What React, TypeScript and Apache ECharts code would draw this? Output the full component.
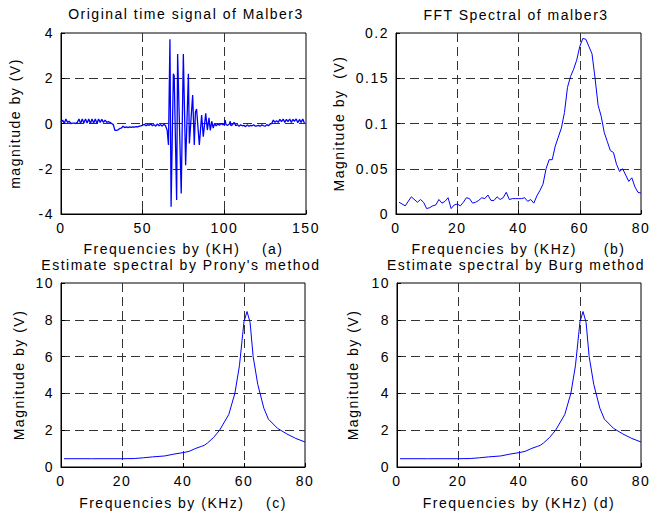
import React, { useEffect, useRef } from "react";
import * as echarts from "echarts";

// (a) Original time signal
const timeX = [
  0, 1, 2, 3, 4, 5, 6, 7, 8, 9, 10, 11, 12, 13, 14, 15, 16, 17, 18, 19, 20, 21, 22, 23, 24, 25, 26, 27, 28, 29,
  30, 31, 32, 33, 34, 35, 36, 37, 38, 39, 40, 41, 42, 43, 44, 45, 46, 47, 48, 49, 50, 51, 52, 53, 54, 55, 56, 57,
  58, 59, 60, 61, 62, 63, 64, 65, 65.8, 66.7, 67.4, 68.8, 69.3, 70.8, 71.4, 73.6, 74.9, 76.3, 78, 78.6, 80.6,
  81.6, 82.3, 83, 84.7, 86.1, 87.1, 88.6, 89.6, 90.6, 91.4, 92.3, 93.2, 94, 95, 96, 97, 98, 99, 100, 100.5,
  101, 102, 103, 103.6, 104, 105, 106, 107, 108, 109, 110, 111, 112, 113, 114, 115, 116, 117, 118, 119, 120,
  121, 122, 123, 124, 125, 126, 127, 128, 129, 130, 131, 132, 133, 134, 135, 136, 137, 138, 139, 140, 141, 142,
  143, 144, 145, 146, 147, 148, 149, 150,
];
const timeY = [
  0.05, 0.15, 0.0, 0.2, 0.05, 0.1, 0.0, 0.02, 0.02, 0.0, 0.05, 0.2, 0.0, 0.2, 0.02, 0.2, 0.02, 0.2, 0.0, 0.2,
  0.02, 0.2, 0.0, 0.2, 0.05, 0.18, 0.05, 0.15, 0.05, 0.08, 0.05, 0.0, -0.05, -0.3, -0.3, -0.28, -0.22, -0.2,
  -0.12, -0.18, -0.15, -0.18, -0.15, -0.17, -0.15, -0.16, -0.14, -0.15, -0.12, -0.1, -0.08, -0.03, -0.1, -0.05,
  -0.08, -0.02, -0.1, -0.05, -0.12, -0.02, -0.1, -0.05, -0.12, -0.03, -0.1, -0.3, -0.95, 3.72, -3.68, 2.2, 2.1,
  -3.38, 3.07, -3.09, 3.07, -1.84, 2.2, -0.88, 1.26, -0.95, 0.5, 0.64, -0.95, 0.37, -0.58, 0.45, -0.29, 0.25,
  -0.3, 0.1, -0.2, 0.0, -0.1, -0.02, -0.08, 0.0, -0.05, -0.05, 0.15, -0.05, -0.08, -0.03, 0.1, -0.1, -0.05,
  0.05, -0.1, -0.05, -0.12, -0.06, -0.1, -0.08, -0.14, -0.06, -0.12, -0.08, -0.1, -0.06, -0.12, -0.1, -0.08,
  -0.12, -0.06, -0.1, -0.12, -0.05, -0.1, -0.02, 0.0, 0.15, 0.05, 0.12, 0.05, 0.18, 0.08, 0.2, 0.05, 0.18,
  0.08, 0.2, 0.05, 0.18, 0.1, 0.2, 0.03, 0.18, 0.05, 0.2, 0.02,
];

// (b) FFT spectrum
const fftX = [
  1, 3, 5, 7, 8, 9, 10, 11, 12, 13, 14, 15, 16, 17, 18, 19, 20, 21, 22, 23, 24, 25, 26, 27, 28, 29, 30, 31, 32,
  33, 34, 35, 36, 37, 38, 39, 40, 41, 42, 43, 44, 45, 46, 47, 48, 49, 50, 51, 52, 53, 54, 55, 56, 57, 58, 59,
  60, 61, 62, 63, 64, 65, 66, 67, 68, 69, 70, 71, 72, 73, 74, 75, 76, 77, 78, 79, 80,
];
const fftY = [
  0.013, 0.009, 0.019, 0.013, 0.016, 0.013, 0.006, 0.007, 0.009, 0.01, 0.016, 0.012, 0.014, 0.018, 0.006,
  0.01, 0.011, 0.009, 0.013, 0.018, 0.017, 0.012, 0.013, 0.015, 0.018, 0.017, 0.021, 0.015, 0.015, 0.019,
  0.016, 0.018, 0.024, 0.016, 0.017, 0.017, 0.017, 0.017, 0.018, 0.014, 0.016, 0.012, 0.02, 0.026, 0.033,
  0.05, 0.06, 0.06, 0.075, 0.085, 0.095, 0.112, 0.14, 0.152, 0.16, 0.17, 0.185, 0.194, 0.193, 0.185, 0.177,
  0.15, 0.12, 0.108, 0.09, 0.08, 0.07, 0.068, 0.055, 0.047, 0.05, 0.043, 0.036, 0.04, 0.03, 0.024, 0.023,
];

// (c) Prony spectrum
const pronyX = [1, 10, 20, 24, 27, 30, 34, 37, 40, 42, 44, 46, 47, 48, 50, 52, 55, 57, 58.5, 60, 61, 62, 63, 64.5, 66.5, 68, 71, 74, 77, 80];
const pronyY = [0.45, 0.45, 0.45, 0.46, 0.5, 0.55, 0.6, 0.7, 0.78, 0.85, 1.0, 1.12, 1.18, 1.3, 1.6, 2.0, 2.85, 4.0, 5.5, 7.9, 8.45, 7.85, 6.0, 4.5, 3.2, 2.6, 2.1, 1.8, 1.55, 1.36];

// (d) Burg spectrum
const burgX = [1, 10, 20, 24, 27, 30, 34, 37, 40, 42, 44, 46, 47, 48, 50, 52, 55, 57, 58.5, 60, 61, 62, 63, 64.5, 66.5, 68, 71, 74, 77, 80];
const burgY = [0.45, 0.45, 0.45, 0.46, 0.5, 0.55, 0.6, 0.7, 0.78, 0.85, 1.0, 1.12, 1.18, 1.3, 1.6, 2.0, 2.85, 4.0, 5.5, 7.9, 8.45, 7.85, 6.0, 4.5, 3.2, 2.6, 2.1, 1.8, 1.55, 1.36];

const titles = [
  "Original time signal of Malber3",
  "FFT Spectral of malber3",
  "Estimate spectral by Prony's method",
  "Estimate spectral by Burg method",
];
const xNames = [
  "Frequencies by (KH)    (a)",
  "Frequencies by (KHz)     (b)",
  "Frequencies by (KHz)    (c)",
  "Frequencies by (KHz) (d)",
];
const yNames = ["magnitude by (V)", "Magnitude by  (V)", "Magnitude by (V)", "Magnitude by (V)"];

const FONT = "Liberation Sans";
const FS = 14;

function pairs(xs: number[], ys: number[]) {
  return xs.map((x, i) => [x, ys[i]]);
}

export default function App() {
  const ref = useRef<HTMLDivElement>(null);
  useEffect(() => {
    if (!ref.current) return;
    const chart = echarts.init(ref.current, null, { renderer: "svg" });
    const grids = [
      { left: 61, top: 33, width: 245, height: 181 },
      { left: 396, top: 33, width: 245, height: 181 },
      { left: 61, top: 283, width: 244, height: 184 },
      { left: 397, top: 283, width: 244, height: 184 },
    ];
    const xRanges = [
      { min: 0, max: 150, interval: 50 },
      { min: 0, max: 80, interval: 20 },
      { min: 0, max: 80, interval: 20 },
      { min: 0, max: 80, interval: 20 },
    ];
    const yRanges = [
      { min: -4, max: 4, interval: 2 },
      { min: 0, max: 0.2, interval: 0.05 },
      { min: 0, max: 10, interval: 2 },
      { min: 0, max: 10, interval: 2 },
    ];
    const xGaps = [28, 28, 29, 29];
    const yGaps = [39, 50, 35, 37];
    const splitLine = {
      show: true,
      showMinLine: false,
      showMaxLine: false,
      lineStyle: { color: "#333", width: 1, type: [9, 5] as number[] },
    };
    const axisCommon = {
      type: "value" as const,
      axisLine: { show: true, onZero: false, lineStyle: { color: "#000", width: 1 } },
      axisTick: { show: true, inside: true, length: 4, lineStyle: { color: "#000" } },
      axisLabel: { color: "#000", fontSize: FS, fontFamily: FONT, margin: 7 },
      nameTextStyle: { color: "#000", fontSize: FS, fontFamily: FONT },
      splitLine,
    };
    const titlePos = [
      [186, 14],
      [516, 15],
      [181, 265],
      [516, 265],
    ];
    const datasets = [pairs(timeX, timeY), pairs(fftX, fftY), pairs(pronyX, pronyY), pairs(burgX, burgY)];
    const option = {
      animation: false,
      backgroundColor: "#fff",
      grid: grids.map((g) => ({ ...g, show: true, borderColor: "#000", borderWidth: 1, backgroundColor: "transparent" })),
      xAxis: grids.map((_, i) => ({
        ...axisCommon,
        gridIndex: i,
        ...xRanges[i],
        name: xNames[i],
        nameLocation: "middle",
        nameGap: xGaps[i],
        axisLabel: {
          ...axisCommon.axisLabel,
          showMinLabel: true,
          showMaxLabel: true,
        },
      })),
      yAxis: grids.map((_, i) => ({
        ...axisCommon,
        gridIndex: i,
        ...yRanges[i],
        name: yNames[i],
        nameLocation: "middle",
        nameRotate: 90,
        nameGap: yGaps[i],
      })),
      series: datasets.map((d, i) => ({
        type: "line",
        xAxisIndex: i,
        yAxisIndex: i,
        data: d,
        showSymbol: false,
        symbol: "none",
        lineStyle: { color: "#0000ff", width: i === 0 ? 1.3 : 1 },
      })),
      graphic: titles.map((t, i) => ({
        type: "text",
        x: titlePos[i][0],
        y: titlePos[i][1],
        style: {
          text: t,
          fill: "#000",
          fontSize: FS,
          fontFamily: FONT,
          font: `${FS}px "${FONT}"`,
          align: "center",
          verticalAlign: "middle",
          textAlign: "center",
          textVerticalAlign: "middle",
        },
      })),
    };
    chart.setOption(option as any);
    return () => chart.dispose();
  }, []);
  return (
    <>
      <style>{`#root svg text { letter-spacing: 1.5px; }`}</style>
      <div
        ref={ref}
        style={{ position: "fixed", left: 0, top: 0, width: 663, height: 515, background: "#fff" }}
      />
    </>
  );
}
